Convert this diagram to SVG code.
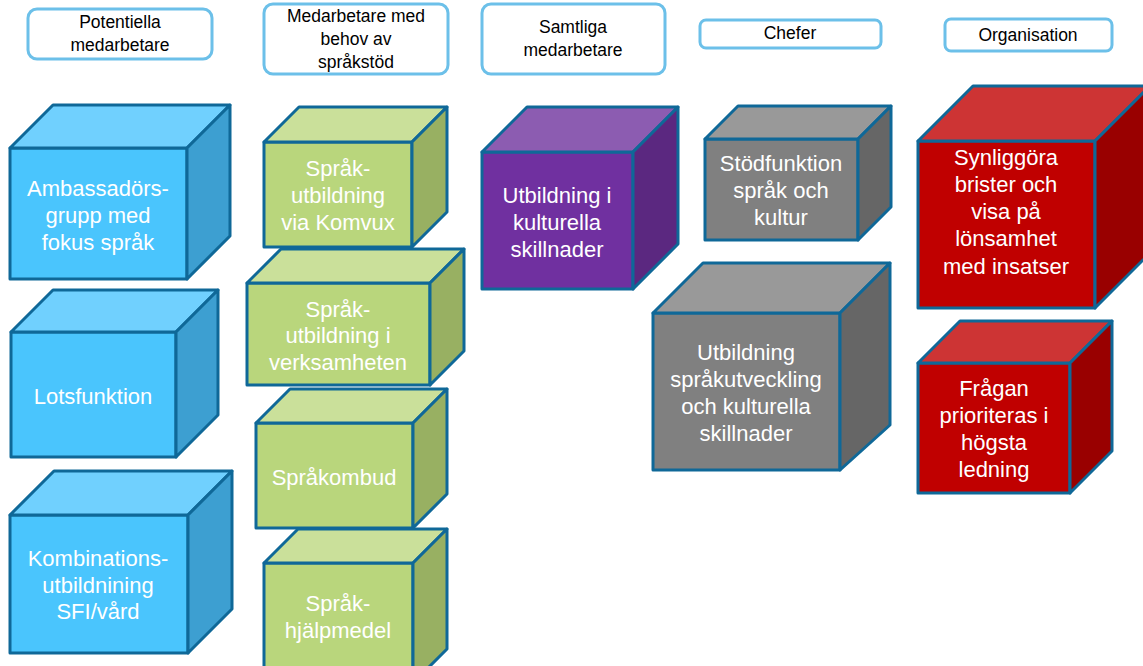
<svg xmlns="http://www.w3.org/2000/svg" width="1143" height="666" viewBox="0 0 1143 666">
<style>
.hdr{fill:#fff;stroke:#6cc0e9;stroke-width:3}
.ht{font-family:"Liberation Sans",Arial,sans-serif;font-size:17.5px;fill:#000;text-anchor:middle}
.ct{font-family:"Liberation Sans",Arial,sans-serif;font-size:22px;fill:#fff;text-anchor:middle;stroke:none}
.e{stroke:#0f6898;stroke-width:3;stroke-linejoin:round}
.bf{fill:#4ac5fd}.bt{fill:#70d0fe}.bs{fill:#3d9fd1}
.gf{fill:#b9d67c}.gt{fill:#cae09a}.gs{fill:#98b062}
.pf{fill:#7030a0}.pt{fill:#8c5cb1}.ps{fill:#5b2880}
.af{fill:#808080}.at{fill:#999999}.as{fill:#666666}
.rf{fill:#c00000}.rt{fill:#cd3434}.rs{fill:#990000}
</style>
<rect width="1143" height="666" fill="#fff"/>
<g id="headers">
<g id="h1"><rect class="hdr" x="28" y="9" width="184" height="50" rx="9"/><text class="ht" x="120" y="28">Potentiella</text><text class="ht" x="120" y="51">medarbetare</text></g>
<g id="h2"><rect class="hdr" x="264" y="4" width="184" height="70" rx="9"/><text class="ht" x="356" y="22">Medarbetare med</text><text class="ht" x="356" y="45">behov av</text><text class="ht" x="356" y="68">språkstöd</text></g>
<g id="h3"><rect class="hdr" x="482" y="4" width="183" height="70" rx="9"/><text class="ht" x="573" y="33">Samtliga</text><text class="ht" x="573" y="56">medarbetare</text></g>
<g id="h4"><rect class="hdr" x="700" y="20" width="181" height="28" rx="6"/><text class="ht" x="790" y="39">Chefer</text></g>
<g id="h5"><rect class="hdr" x="945" y="19" width="167" height="32" rx="6"/><text class="ht" x="1028" y="41">Organisation</text></g>
</g>
<g id="connectors"></g>
<g id="c-ambassador" class="e">
<rect class="bf" x="10" y="148" width="177" height="131"/>
<polygon class="bt" points="10,148 53,105 230,105 187,148"/>
<polygon class="bs" points="187,148 230,105 230,236 187,279"/>
<text class="ct" x="98" y="196">Ambassadörs-</text><text class="ct" x="98" y="223">grupp med</text><text class="ct" x="98" y="250">fokus språk</text>
</g>
<g id="c-lots" class="e">
<rect class="bf" x="11" y="332" width="165" height="125"/>
<polygon class="bt" points="11,332 53,290 218,290 176,332"/>
<polygon class="bs" points="176,332 218,290 218,415 176,457"/>
<text class="ct" x="93" y="404">Lotsfunktion</text>
</g>
<g id="c-komb" class="e">
<rect class="bf" x="10" y="515" width="178" height="138"/>
<polygon class="bt" points="10,515 54,471 232,471 188,515"/>
<polygon class="bs" points="188,515 232,471 232,609 188,653"/>
<text class="ct" x="98" y="566">Kombinations-</text><text class="ct" x="98" y="593">utbildnining</text><text class="ct" x="98" y="619">SFI/vård</text>
</g>
<g id="c-komvux" class="e">
<rect class="gf" x="264" y="142" width="148" height="105"/>
<polygon class="gt" points="264,142 299,107 447,107 412,142"/>
<polygon class="gs" points="412,142 447,107 447,212 412,247"/>
<text class="ct" x="338" y="176">Språk-</text><text class="ct" x="338" y="203">utbildning</text><text class="ct" x="338" y="230">via Komvux</text>
</g>
<g id="c-verksamhet" class="e">
<rect class="gf" x="247" y="283" width="183" height="102"/>
<polygon class="gt" points="247,283 281,249 464,249 430,283"/>
<polygon class="gs" points="430,283 464,249 464,351 430,385"/>
<text class="ct" x="338" y="317">Språk-</text><text class="ct" x="338" y="343">utbildning i</text><text class="ct" x="338" y="370">verksamheten</text>
</g>
<g id="c-ombud" class="e">
<rect class="gf" x="256" y="423" width="157" height="105"/>
<polygon class="gt" points="256,423 290,389 447,389 413,423"/>
<polygon class="gs" points="413,423 447,389 447,494 413,528"/>
<text class="ct" x="334" y="485">Språkombud</text>
</g>
<g id="c-hjalpmedel" class="e">
<rect class="gf" x="264" y="563" width="149" height="120"/>
<polygon class="gt" points="264,563 298,529 447,529 413,563"/>
<polygon class="gs" points="413,563 447,529 447,649 413,683"/>
<text class="ct" x="338" y="611">Språk-</text><text class="ct" x="338" y="638">hjälpmedel</text>
</g>
<g id="c-kultur" class="e">
<rect class="pf" x="482" y="152" width="151" height="137"/>
<polygon class="pt" points="482,152 527,107 678,107 633,152"/>
<polygon class="ps" points="633,152 678,107 678,244 633,289"/>
<text class="ct" x="557" y="203">Utbildning i</text><text class="ct" x="557" y="230">kulturella</text><text class="ct" x="557" y="257">skillnader</text>
</g>
<g id="c-stod" class="e">
<rect class="af" x="705" y="139" width="153" height="101"/>
<polygon class="at" points="705,139 738,106 891,106 858,139"/>
<polygon class="as" points="858,139 891,106 891,207 858,240"/>
<text class="ct" x="781" y="171">Stödfunktion</text><text class="ct" x="781" y="198">språk och</text><text class="ct" x="781" y="225">kultur</text>
</g>
<g id="c-sprakutv" class="e">
<rect class="af" x="653" y="313" width="187" height="157"/>
<polygon class="at" points="653,313 703,263 890,263 840,313"/>
<polygon class="as" points="840,313 890,263 890,425 840,470"/>
<text class="ct" x="746" y="360">Utbildning</text><text class="ct" x="746" y="387">språkutveckling</text><text class="ct" x="746" y="414">och kulturella</text><text class="ct" x="746" y="441">skillnader</text>
</g>
<g id="c-synlig" class="e">
<rect class="rf" x="918" y="141" width="177" height="167"/>
<polygon class="rt" points="918,141 973,86 1150,86 1095,141"/>
<polygon class="rs" points="1095,141 1150,86 1150,253 1095,308"/>
<text class="ct" x="1006" y="165">Synliggöra</text><text class="ct" x="1006" y="192">brister och</text><text class="ct" x="1006" y="219">visa på</text><text class="ct" x="1006" y="246">lönsamhet</text><text class="ct" x="1006" y="274">med insatser</text>
</g>
<g id="c-fragan" class="e">
<rect class="rf" x="918" y="363" width="152" height="130"/>
<polygon class="rt" points="918,363 960,321 1112,321 1070,363"/>
<polygon class="rs" points="1070,363 1112,321 1112,451 1070,493"/>
<text class="ct" x="994" y="396">Frågan</text><text class="ct" x="994" y="423">prioriteras i</text><text class="ct" x="994" y="450">högsta</text><text class="ct" x="994" y="477">ledning</text>
</g>
</svg>
